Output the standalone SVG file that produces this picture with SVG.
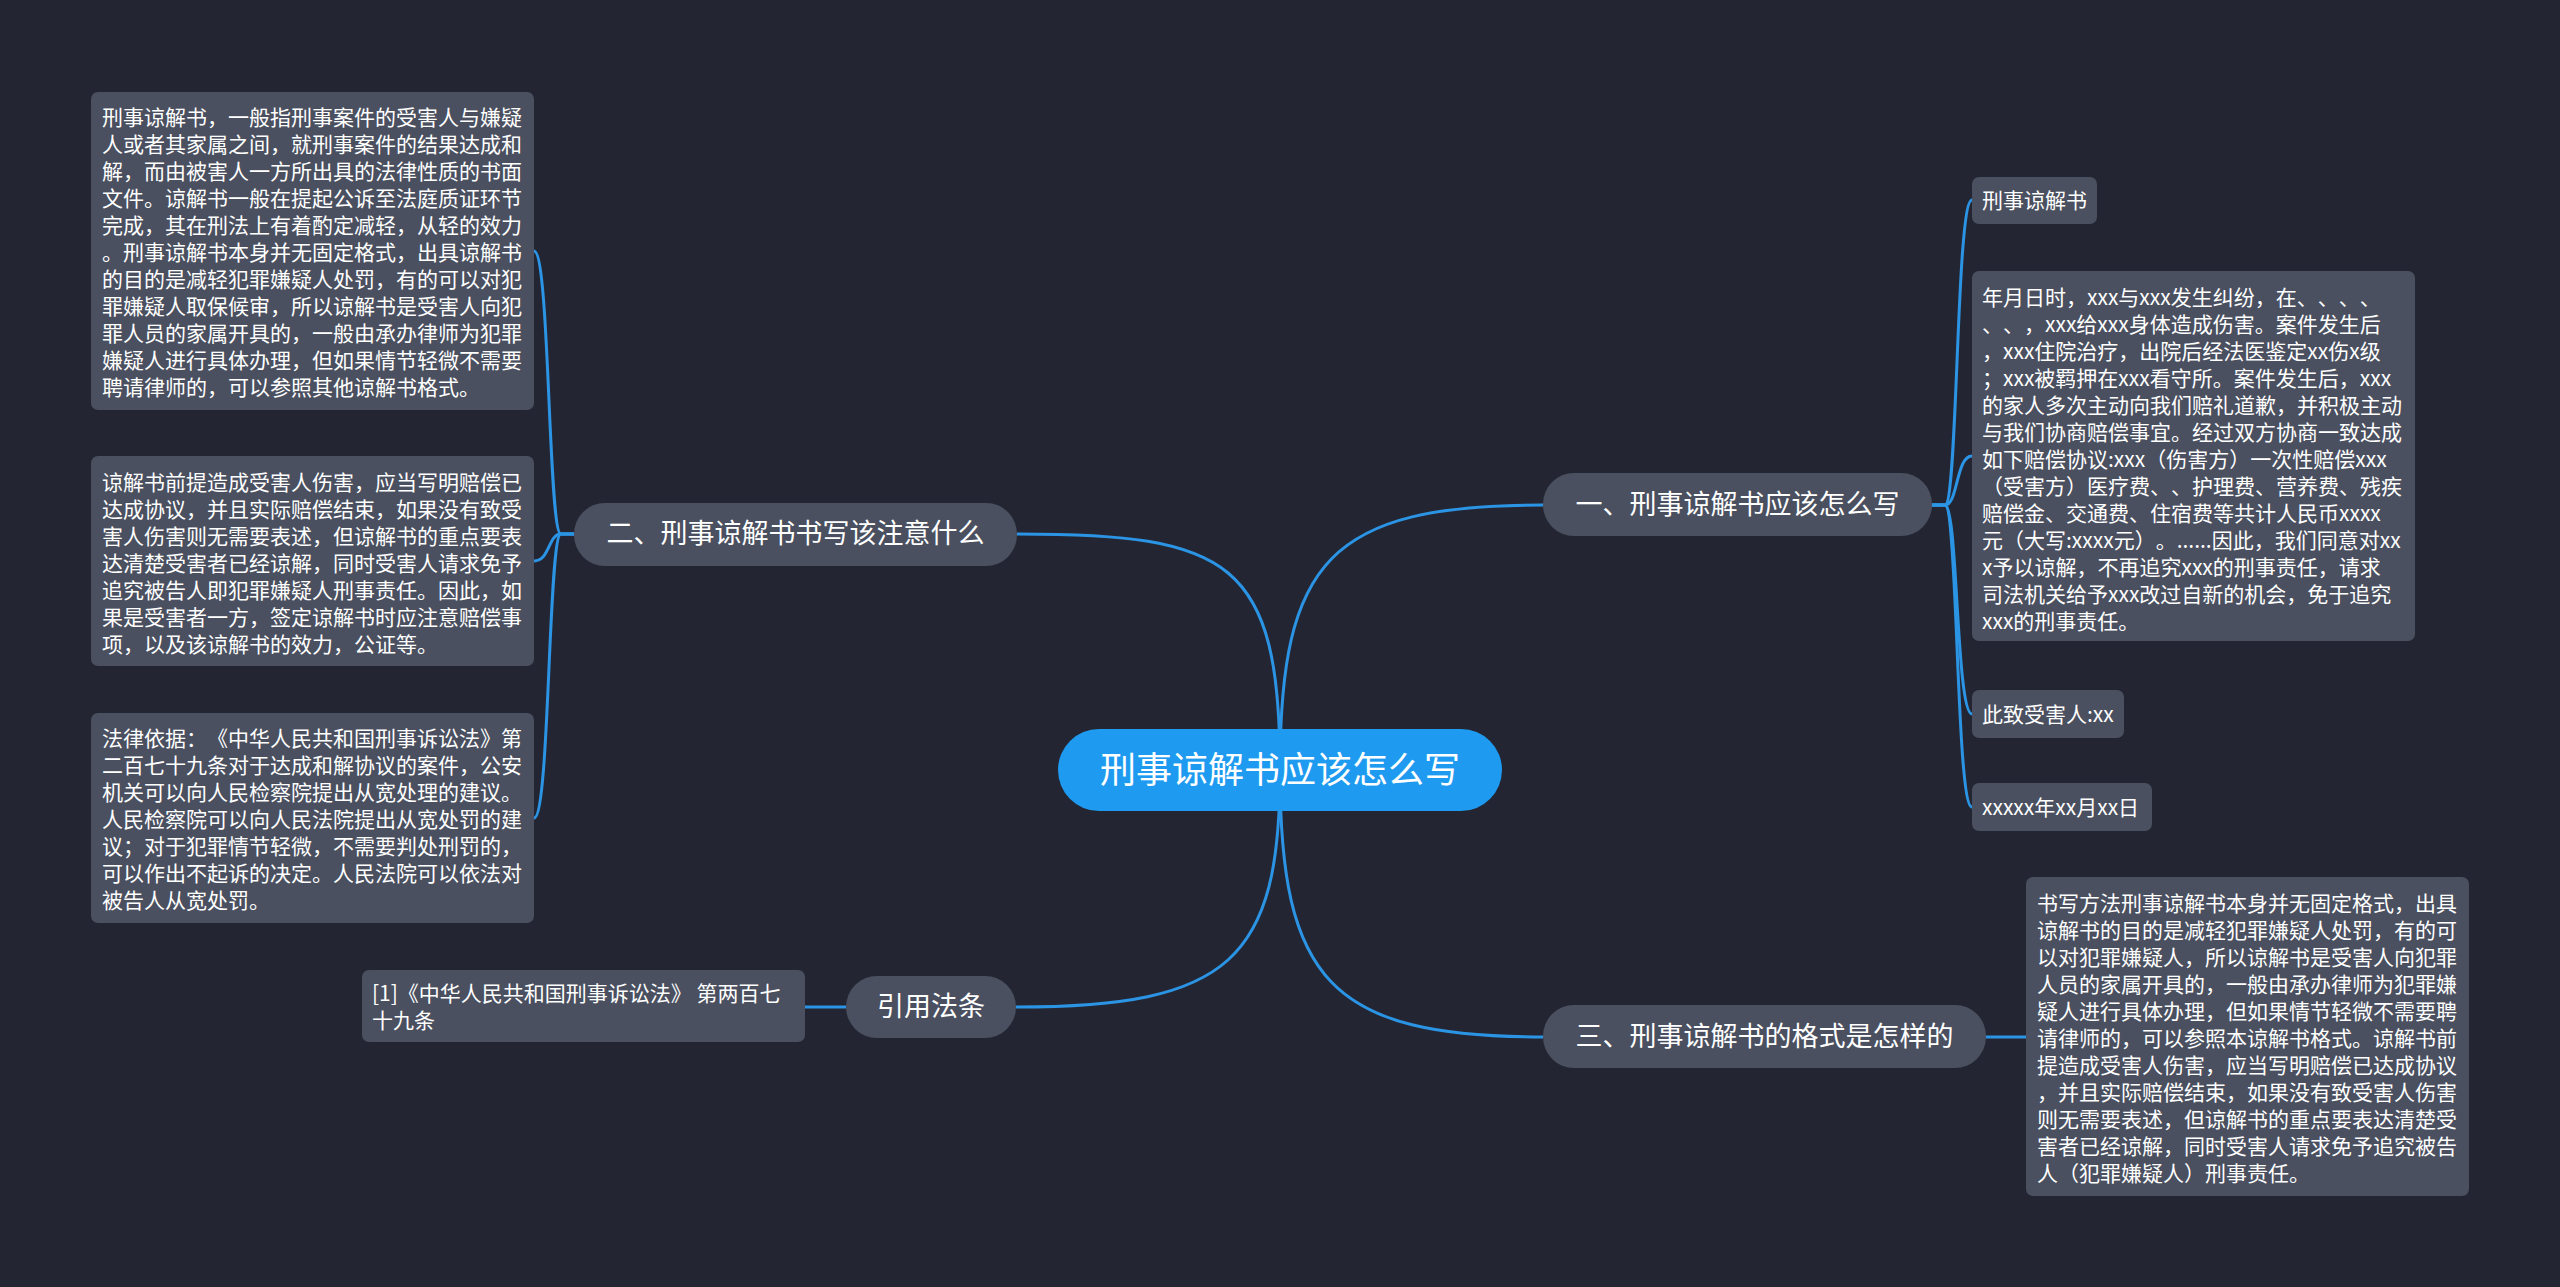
<svg xmlns="http://www.w3.org/2000/svg" width="2560" height="1287" viewBox="0 0 2560 1287">
<defs>
<style>
.bg{fill:#232632}
.box{fill:#4a505f}
.main{fill:#4a505f}
.root{fill:#1e9bf0}
text{text-spacing-trim:space-all;font-family:"Noto Sans CJK SC","Noto Sans",sans-serif;fill:#ffffff}
.t{font-size:21px}
.tm{font-size:27px;text-anchor:middle}
.tr{font-size:36px;text-anchor:middle}
.c{fill:none;stroke:#2b94e4;stroke-width:3}
</style>
</defs>
<rect class="bg" x="0" y="0" width="2560" height="1287"/>
<g id="connectors">
<path class="c" d="M1280,770 C1280,560 1330,505 1543,505"/>
<path class="c" d="M1280,770 C1280,560 1230,534 1017,534"/>
<path class="c" d="M1280,770 C1280,980 1330,1037 1543,1037"/>
<path class="c" d="M1280,770 C1280,960 1230,1007 1016,1007"/>
<path class="c" d="M1932,505 H1945 C1958,505 1956,200 1972,200"/>
<path class="c" d="M1932,505 H1945 C1958,505 1956,456 1972,456"/>
<path class="c" d="M1932,505 H1945 C1958,505 1956,714 1972,714"/>
<path class="c" d="M1932,505 H1945 C1958,505 1956,807 1972,807"/>
<path class="c" d="M574,534 H561 C548,534 550,251 534,251"/>
<path class="c" d="M574,534 H561 C548,534 550,561 534,561"/>
<path class="c" d="M574,534 H561 C548,534 550,818 534,818"/>
<path class="c" d="M1986,1037 H2026"/>
<path class="c" d="M846,1007 H805"/>
</g>
<g id="root">
<rect class="root" x="1058" y="729" width="444" height="82" rx="41"/>
<text class="tr" x="1280" y="783">刑事谅解书应该怎么写</text>
</g>
<g id="n1">
<rect class="main" x="1543" y="473" width="389" height="63" rx="31"/>
<text class="tm" x="1737.5" y="514">一、刑事谅解书应该怎么写</text>
</g>
<g id="n2">
<rect class="main" x="574" y="503" width="443" height="63" rx="31"/>
<text class="tm" x="795.5" y="543">二、刑事谅解书书写该注意什么</text>
</g>
<g id="n3">
<rect class="main" x="1543" y="1005" width="443" height="63" rx="31"/>
<text class="tm" x="1764.5" y="1046">三、刑事谅解书的格式是怎样的</text>
</g>
<g id="n4">
<rect class="main" x="846" y="976" width="170" height="62" rx="31"/>
<text class="tm" x="931" y="1016">引用法条</text>
</g>
<g id="n1a">
<rect class="box" x="1972" y="177" width="125" height="47" rx="7"/>
<text class="t" x="1982" y="208">刑事谅解书</text>
</g>
<g id="n1b">
<rect class="box" x="1972" y="271" width="443" height="370" rx="7"/>
<text class="t" x="1982" y="305">
<tspan x="1982" y="305">年月日时，xxx与xxx发生纠纷，在、、、、</tspan>
<tspan x="1982" y="332">、、，xxx给xxx身体造成伤害。案件发生后</tspan>
<tspan x="1982" y="359">，xxx住院治疗，出院后经法医鉴定xx伤x级</tspan>
<tspan x="1982" y="386">；xxx被羁押在xxx看守所。案件发生后，xxx</tspan>
<tspan x="1982" y="413">的家人多次主动向我们赔礼道歉，并积极主动</tspan>
<tspan x="1982" y="440">与我们协商赔偿事宜。经过双方协商一致达成</tspan>
<tspan x="1982" y="467">如下赔偿协议:xxx（伤害方）一次性赔偿xxx</tspan>
<tspan x="1982" y="494">（受害方）医疗费、、护理费、营养费、残疾</tspan>
<tspan x="1982" y="521">赔偿金、交通费、住宿费等共计人民币xxxx</tspan>
<tspan x="1982" y="548">元（大写:xxxx元）。......因此，我们同意对xx</tspan>
<tspan x="1982" y="575">x予以谅解，不再追究xxx的刑事责任，请求</tspan>
<tspan x="1982" y="602">司法机关给予xxx改过自新的机会，免于追究</tspan>
<tspan x="1982" y="629">xxx的刑事责任。</tspan>
</text>
</g>
<g id="n1c">
<rect class="box" x="1972" y="690" width="152" height="48" rx="7"/>
<text class="t" x="1982" y="722">此致受害人:xx</text>
</g>
<g id="n1d">
<rect class="box" x="1972" y="783" width="180" height="48" rx="7"/>
<text class="t" x="1982" y="815">xxxxx年xx月xx日</text>
</g>
<g id="n2a">
<rect class="box" x="91" y="92" width="443" height="318" rx="7"/>
<text class="t">
<tspan x="102" y="125">刑事谅解书，一般指刑事案件的受害人与嫌疑</tspan>
<tspan x="102" y="152">人或者其家属之间，就刑事案件的结果达成和</tspan>
<tspan x="102" y="179">解，而由被害人一方所出具的法律性质的书面</tspan>
<tspan x="102" y="206">文件。谅解书一般在提起公诉至法庭质证环节</tspan>
<tspan x="102" y="233">完成，其在刑法上有着酌定减轻，从轻的效力</tspan>
<tspan x="102" y="260">。刑事谅解书本身并无固定格式，出具谅解书</tspan>
<tspan x="102" y="287">的目的是减轻犯罪嫌疑人处罚，有的可以对犯</tspan>
<tspan x="102" y="314">罪嫌疑人取保候审，所以谅解书是受害人向犯</tspan>
<tspan x="102" y="341">罪人员的家属开具的，一般由承办律师为犯罪</tspan>
<tspan x="102" y="368">嫌疑人进行具体办理，但如果情节轻微不需要</tspan>
<tspan x="102" y="395">聘请律师的，可以参照其他谅解书格式。</tspan>
</text>
</g>
<g id="n2b">
<rect class="box" x="91" y="456" width="443" height="210" rx="7"/>
<text class="t">
<tspan x="102" y="490">谅解书前提造成受害人伤害，应当写明赔偿已</tspan>
<tspan x="102" y="517">达成协议，并且实际赔偿结束，如果没有致受</tspan>
<tspan x="102" y="544">害人伤害则无需要表述，但谅解书的重点要表</tspan>
<tspan x="102" y="571">达清楚受害者已经谅解，同时受害人请求免予</tspan>
<tspan x="102" y="598">追究被告人即犯罪嫌疑人刑事责任。因此，如</tspan>
<tspan x="102" y="625">果是受害者一方，签定谅解书时应注意赔偿事</tspan>
<tspan x="102" y="652">项，以及该谅解书的效力，公证等。</tspan>
</text>
</g>
<g id="n2c">
<rect class="box" x="91" y="713" width="443" height="210" rx="7"/>
<text class="t">
<tspan x="102" y="746">法律依据：《中华人民共和国刑事诉讼法》第</tspan>
<tspan x="102" y="773">二百七十九条对于达成和解协议的案件，公安</tspan>
<tspan x="102" y="800">机关可以向人民检察院提出从宽处理的建议。</tspan>
<tspan x="102" y="827">人民检察院可以向人民法院提出从宽处罚的建</tspan>
<tspan x="102" y="854">议；对于犯罪情节轻微，不需要判处刑罚的，</tspan>
<tspan x="102" y="881">可以作出不起诉的决定。人民法院可以依法对</tspan>
<tspan x="102" y="908">被告人从宽处罚。</tspan>
</text>
</g>
<g id="n3a">
<rect class="box" x="2026" y="877" width="443" height="319" rx="7"/>
<text class="t">
<tspan x="2037" y="911">书写方法刑事谅解书本身并无固定格式，出具</tspan>
<tspan x="2037" y="938">谅解书的目的是减轻犯罪嫌疑人处罚，有的可</tspan>
<tspan x="2037" y="965">以对犯罪嫌疑人，所以谅解书是受害人向犯罪</tspan>
<tspan x="2037" y="992">人员的家属开具的，一般由承办律师为犯罪嫌</tspan>
<tspan x="2037" y="1019">疑人进行具体办理，但如果情节轻微不需要聘</tspan>
<tspan x="2037" y="1046">请律师的，可以参照本谅解书格式。谅解书前</tspan>
<tspan x="2037" y="1073">提造成受害人伤害，应当写明赔偿已达成协议</tspan>
<tspan x="2037" y="1100">，并且实际赔偿结束，如果没有致受害人伤害</tspan>
<tspan x="2037" y="1127">则无需要表述，但谅解书的重点要表达清楚受</tspan>
<tspan x="2037" y="1154">害者已经谅解，同时受害人请求免予追究被告</tspan>
<tspan x="2037" y="1181">人（犯罪嫌疑人）刑事责任。</tspan>
</text>
</g>
<g id="n4a">
<rect class="box" x="362" y="970" width="443" height="72" rx="7"/>
<text class="t">
<tspan x="372" y="1001">[1]《中华人民共和国刑事诉讼法》 第两百七</tspan>
<tspan x="372" y="1028">十九条</tspan>
</text>
</g>
</svg>
